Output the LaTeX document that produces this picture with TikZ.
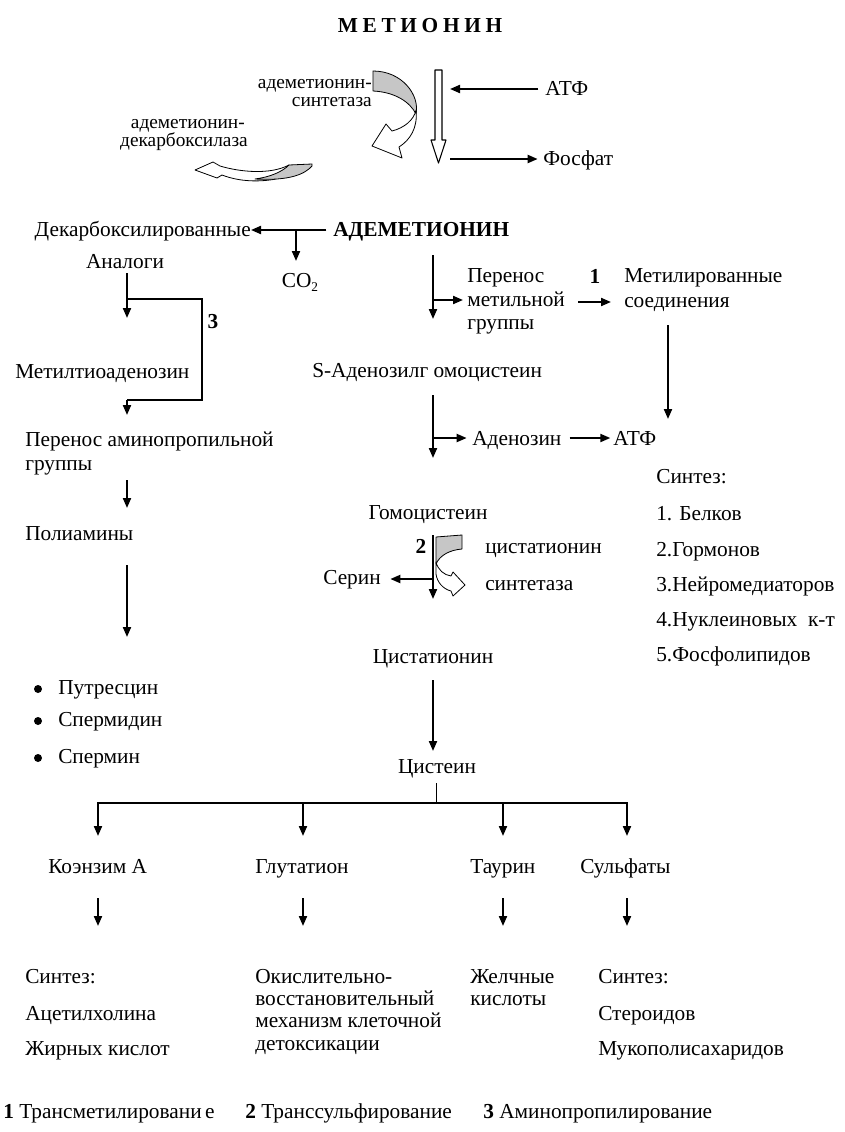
\documentclass[tikz,border=0pt]{standalone}
\usepackage{fontspec}
\setmainfont{Liberation Serif}
\usetikzlibrary{arrows.meta}
\newcommand\fs{\fontsize{16}{18}\selectfont}
\begin{document}
\begin{tikzpicture}[x=0.75pt,y=-0.75pt,
  txt/.style={inner sep=0pt,font=\fs},
  bw/.style={txt,anchor=base west},
  be/.style={txt,anchor=base east},
  bc/.style={txt,anchor=base},
  enz/.style={inner sep=0pt,anchor=base east,font=\fontsize{14.5}{16}\selectfont},
  ar/.style={-{Triangle[length=7.5pt,width=6pt]},line width=1.5pt},
  ln/.style={line width=1.5pt},
  hollow/.style={fill=white,draw=black,line width=0.6pt,line join=round},
  shade/.style={fill=gray!45,draw=black,line width=0.6pt,line join=round},
  dot/.style={circle,fill=black,inner sep=0pt,minimum size=6pt}]
\useasboundingbox (0,0) rectangle (844,1132);

% title
\node[bc,font=\fontsize{16}{18}\selectfont\bfseries\addfontfeatures{LetterSpace=22}] (title) at (420,32) {МЕТИОНИН};

% top enzymes
\node[enz] (syn1a) at (372,88) {адеметионин-};
\node[enz] (syn1b) at (372,106) {синтетаза};
\node[enz] (dec1a) at (245,128) {адеметионин-};
\node[enz] (dec1b) at (248,146) {декарбоксилаза};

% ribbon A (synthetase)
\draw[shade] (373,71) .. controls (402,71) and (420,95) .. (416,114) .. controls (410,102) and (395,92) .. (373,91) -- cycle;
\draw[hollow] (416,110) .. controls (414,120) and (404,128) .. (392,131) -- (386,124) -- (372,146) -- (402,158) -- (399,147) .. controls (410,140) and (418,128) .. (416,110) -- cycle;

% ribbon B (decarboxylase)
\draw[hollow] (289,165) .. controls (270,175) and (240,172) .. (220,166) -- (213,162) -- (195,170) -- (217,178) -- (222,175) .. controls (240,182) and (260,182) .. (276,179) -- cycle;
\draw[shade] (312,164) -- (289,165) .. controls (282,172) and (270,177) .. (255,179) .. controls (290,181) and (305,174) .. (312,166) -- cycle;

% hollow vertical arrow
\draw[hollow,line width=0.8pt] (435,70) -- (442,70) -- (442,140) -- (446,140) -- (438.5,163) -- (431,140) -- (435,140) -- cycle;
\coordinate (vin) at (450,89);
\coordinate (vout) at (450,159);
\node[bw] (atf1) at (545,95) {АТФ};
\node[bw] (fosf) at (543,165) {Фосфат};
\draw[ar] ([xshift=-5pt]atf1.west |- vin) -- (vin);
\draw[ar] (vout) -- ([xshift=-4pt]fosf.west |- vout);

% ademetionin row
\node[bw,font=\fs\bfseries] (adem) at (333,236) {АДЕМЕТИОНИН};
\coordinate (arow) at (333,230);
\node[be] (decarb) at (251,236) {Декарбоксилированные};
\node[bc] (analogi) at (125,268) {Аналоги};
\node[bc] (co2) at (300,287) {CO\raisebox{-0.45ex}{\fontsize{10}{10}\selectfont 2}};
\draw[ar] ([xshift=-5pt]adem.west |- arow) -- (decarb.east |- arow);
\coordinate (cobr) at (296,230);
\coordinate (cotip) at (296,261);
\draw[ar] (cobr) -- (cotip);

% left column
\coordinate (l1) at (127,273);
\coordinate (l1t) at (127,318);
\coordinate (lb1) at (127,299);
\coordinate (lb2) at (202,400);
\coordinate (lb3) at (127,400);
\coordinate (lb3t) at (127,415);
\draw[ar] (l1) -- (l1t);
\draw[ln] (lb1) -| (lb2) -- (lb3);
\draw[ar] (lb3) -- (lb3t);
\node[bc,font=\fs\bfseries] (three) at (213,328) {3};
\node[bw] (mta) at (15,378) {Метилтиоаденозин};
\node[bw] (perap1) at (25,446) {Перенос аминопропильной};
\node[bw] (perap2) at (25,470) {группы};
\coordinate (l2) at (127,480);
\coordinate (l2t) at (127,508);
\draw[ar] (l2) -- (l2t);
\node[bw] (poli) at (25,540) {Полиамины};
\coordinate (l3) at (127,565);
\coordinate (l3t) at (127,637);
\draw[ar] (l3) -- (l3t);
\node[dot] (b1) at (38,689) {};
\node[dot] (b2) at (38,721) {};
\node[dot] (b3) at (38,758) {};
\node[bw] (putr) at (58,694) {Путресцин};
\node[bw] (spmd) at (58,726) {Спермидин};
\node[bw] (spm) at (58,763) {Спермин};

% middle column
\coordinate (m1) at (433,255);
\coordinate (m1t) at (433,319);
\coordinate (m1b) at (433,300);
\draw[ar] (m1) -- (m1t);
\node[bw] (permet1) at (467,282) {Перенос};
\node[bw] (permet2) at (467,306) {метильной};
\node[bw] (permet3) at (467,329) {группы};
\draw[ar] (m1b) -- ([xshift=-3pt]permet2.west |- m1b);
\node[bc,font=\fs\bfseries] (one) at (595,283) {1};
\node[bw] (metsoed1) at (624,282) {Метилированные};
\node[bw] (metsoed2) at (624,307) {соединения};
\coordinate (ms1) at (578,302);
\coordinate (ms2) at (611,302);
\draw[ar] (ms1) -- (ms2);
\coordinate (r1) at (668,325);
\coordinate (r1t) at (668,419);
\draw[ar] (r1) -- (r1t);

\node[bw] (sahc) at (312,377) {S-Аденозилг омоцистеин};
\coordinate (m2) at (433,395);
\coordinate (m2t) at (433,458);
\coordinate (m2b) at (433,438);
\draw[ar] (m2) -- (m2t);
\node[bw] (adz) at (472,445) {Аденозин};
\draw[ar] (m2b) -- ([xshift=-4pt]adz.west |- m2b);
\node[bw] (atf2) at (613,445) {АТФ};
\draw[ar] ([xshift=6pt]adz.east |- m2b) -- ([xshift=-2pt]atf2.west |- m2b);

% synthesis list right
\node[bw] (s0) at (656,483) {Синтез:};
\node[bw] (s1) at (656,520) {1. Белков};
\node[bw] (s2) at (656,556) {2.Гормонов};
\node[bw] (s3) at (656,591) {3.Нейромедиаторов};
\node[bw] (s4) at (656,626) {4.Нуклеиновых\ \ к-т};
\node[bw] (s5) at (656,661) {5.Фосфолипидов};

% homocysteine
\node[bc] (hcy) at (428,519) {Гомоцистеин};
\coordinate (m3) at (433,535);
\coordinate (m3t) at (433,599);
\coordinate (m3b) at (433,579);
\node[be] (ser) at (381,584) {Серин};
\draw[ar] (m3) -- (m3t);
\draw[ar] (m3b) -- ([xshift=7pt]ser.east |- m3b);
\node[bc,font=\fs\bfseries] (two) at (421,553) {2};
\draw[shade] (436,537) -- (462,535) -- (462,549) .. controls (450,550) and (440,555) .. (436,564) -- cycle;
\draw[hollow] (436,562) .. controls (438,570) and (444,575) .. (451,576) -- (453,572) -- (465,585) -- (453,596) -- (451,591) .. controls (443,589) and (437,582) .. (436,574) -- cycle;
\node[bw] (cs1) at (485,553) {цистатионин};
\node[bw] (cs2) at (485,590) {синтетаза};

\node[bc] (cysta) at (433,663) {Цистатионин};
\coordinate (m4) at (433,680);
\coordinate (m4t) at (433,751);
\draw[ar] (m4) -- (m4t);
\node[bc] (cys) at (437,773) {Цистеин};
\coordinate (bar) at (436,803);
\draw[line width=0.6pt] ([yshift=-4pt]cys.south -| bar) -- (bar);
\coordinate (d1) at (98,803);
\coordinate (d2) at (303,803);
\coordinate (d3) at (503,803);
\coordinate (d4) at (627,803);
\draw[ln] ([xshift=-0.75pt]d1) -- ([xshift=0.75pt]d4);
\foreach \p/\q in {d1/98,d2/303,d3/503,d4/627}{\draw[ar] (\p) -- (\q,836);}

% bottom
\node[bw] (coa) at (48,873) {Коэнзим А};
\node[bw] (glu) at (255,873) {Глутатион};
\node[bw] (tau) at (470,873) {Таурин};
\node[bw] (sulf) at (580,873) {Сульфаты};
\foreach \q in {98,303,503,627}{\draw[ar] (\q,898) -- (\q,926);}

\node[bw] (t1a) at (25,983) {Синтез:};
\node[bw] (t1b) at (25,1020) {Ацетилхолина};
\node[bw] (t1c) at (25,1055) {Жирных кислот};
\node[bw] (t2a) at (255,983) {Окислительно-};
\node[bw] (t2b) at (255,1005) {восстановительный};
\node[bw] (t2c) at (255,1027) {механизм клеточной};
\node[bw] (t2d) at (255,1050) {детоксикации};
\node[bw] (t3a) at (470,983) {Желчные};
\node[bw] (t3b) at (470,1005) {кислоты};
\node[bw] (t4a) at (598,983) {Синтез:};
\node[bw] (t4b) at (598,1020) {Стероидов};
\node[bw] (t4c) at (598,1055) {Мукополисахаридов};

% footer
\node[bw] (f1) at (3,1118) {\textbf{1} Трансметилировани\,е};
\node[bw] (f2) at (245,1118) {\textbf{2} Транссульфирование};
\node[bw] (f3) at (483,1118) {\textbf{3} Аминопропилирование};
\end{tikzpicture}
\end{document}
